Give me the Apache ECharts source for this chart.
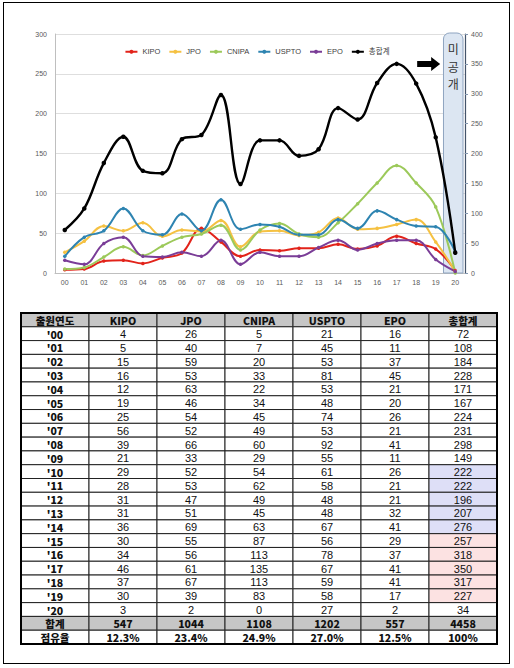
<!DOCTYPE html>
<html><head><meta charset="utf-8">
<script src="https://cdn.jsdelivr.net/npm/echarts@6/dist/echarts.min.js"></script>
<style>
html,body{margin:0;padding:0;background:#fff;}
#frame{position:absolute;left:3px;top:2px;width:505px;height:660px;border:1.5px solid #000;box-sizing:content-box;}
#c{position:absolute;left:0;top:0;width:514px;height:668px;}
</style></head><body>
<div id="frame"></div>
<div id="c"></div>
<script>
const years = ['00','01','02','03','04','05','06','07','08','09','10','11','12','13','14','15','16','17','18','19','20'];
const KIPO  = [4,5,15,16,12,19,25,56,39,21,29,28,31,31,36,30,34,46,37,30,3];
const JPO   = [26,40,59,53,63,46,54,52,66,33,52,53,47,51,69,55,56,61,67,39,2];
const CNIPA = [5,7,20,33,22,34,45,49,60,29,54,62,49,45,63,87,113,135,113,83,0];
const USPTO = [21,45,53,81,53,48,74,53,92,55,61,58,48,48,67,56,78,67,59,58,27];
const EPO   = [16,11,37,45,21,20,26,21,41,11,26,21,21,32,41,29,37,41,41,17,2];
const TOTAL = [72,108,184,228,171,167,224,231,298,149,222,222,196,207,276,257,318,350,317,227,34];
const SUM_ROW   = ['547','1044','1108','1202','557','4458'];
const SHARE_ROW = ['12.3%','23.4%','24.9%','27.0%','12.5%','100%'];
const tableHeader = ['출원연도','KIPO','JPO','CNIPA','USPTO','EPO','총합계'];
const seriesNames = ['KIPO','JPO','CNIPA','USPTO','EPO','총합계'];
const blueRows = ['10','11','12','13','14'];
const pinkRows = ['15','16','17','18','19'];

const colors = ['#e2231a','#f5c142','#9cc95a','#2e84b1','#7a3d97','#000000'];
const seriesData = [KIPO,JPO,CNIPA,USPTO,EPO,TOTAL];

// table cells
const rows = [];
rows.push(tableHeader.map(t=>({text:t,bold:true,bg:'#c6c6c6'})));
years.forEach((y,i)=>{
  const r=[{text:"'"+y,bold:true,bg:'#fff'}];
  [KIPO,JPO,CNIPA,USPTO,EPO].forEach(a=>r.push({text:String(a[i]),bold:false,bg:'#fff'}));
  let bg='#fff';
  if(blueRows.includes(y)) bg='#dedff7';
  if(pinkRows.includes(y)) bg='#fce2e2';
  r.push({text:String(TOTAL[i]),bold:false,bg:bg});
  rows.push(r);
});
rows.push([{text:'합계',bold:true,bg:'#c6c6c6'}].concat(SUM_ROW.map(t=>({text:t,bold:true,bg:'#c6c6c6'}))));
rows.push([{text:'점유율',bold:true,bg:'#fff'}].concat(SHARE_ROW.map(t=>({text:t,bold:true,bg:'#fff'}))));
const cells=[];
rows.forEach((r,ri)=>r.forEach((c,ci)=>cells.push({value:[ci,ri],cell:c})));

const chart = echarts.init(document.getElementById('c'), null, {renderer:'svg'});
const FONT = '"Liberation Sans","Noto Sans CJK KR",sans-serif';
const axisLblColor = '#595959';

const lineSeries = seriesNames.map((n,i)=>({
  name:n, type:'line', data:seriesData[i],
  xAxisIndex:0, yAxisIndex: i===5?1:0,
  smooth:0.38, symbol:'circle', symbolSize: i===5?4.5:3.5,
  lineStyle:{width: i===5?2.4:2, color:colors[i]},
  itemStyle:{color:colors[i]},
  z: i===5?5:3
}));

chart.setOption({
  animation:false,
  textStyle:{fontFamily:FONT},
  color:colors,
  legend:{
    data:seriesNames, top:43, left:'center',
    itemWidth:12, itemHeight:5, itemGap:8,
    textStyle:{fontSize:7.5, color:'#404040', fontFamily:FONT}
  },
  grid:[
    {left:55, right:49, top:34, bottom:395},
    {left:21, right:17, top:313, bottom:24}
  ],
  xAxis:[
    {type:'category', data:years, gridIndex:0, boundaryGap:true,
     axisLine:{lineStyle:{color:'#bfbfbf'}}, axisTick:{show:false},
     axisLabel:{fontSize:7, color:axisLblColor, margin:6}},
    {type:'category', data:tableHeader.map((_,i)=>i), gridIndex:1, show:false}
  ],
  yAxis:[
    {type:'value', gridIndex:0, min:0, max:300, interval:50,
     axisLine:{show:true, lineStyle:{color:'#bfbfbf'}}, axisTick:{show:false},
     splitLine:{lineStyle:{color:'#dedede'}},
     axisLabel:{fontSize:7, color:axisLblColor, margin:8}},
    {type:'value', gridIndex:0, min:0, max:400, interval:50, position:'right',
     axisLine:{show:true, lineStyle:{color:'#44546a', width:1.2}},
     axisTick:{show:true, length:3, lineStyle:{color:'#8497b0'}},
     splitLine:{show:false},
     axisLabel:{fontSize:7, color:axisLblColor, margin:6}},
    {type:'category', data:rows.map((_,i)=>i), gridIndex:1, inverse:true, show:false}
  ],
  series: lineSeries.concat([{
    type:'custom', xAxisIndex:1, yAxisIndex:2, data:cells,
    renderItem:function(params, api){
      const c = api.coord([api.value(0), api.value(1)]);
      const s = api.size([1,1]);
      const cell = cells[params.dataIndex].cell;
      return {type:'group', children:[
        {type:'rect', shape:{x:c[0]-s[0]/2, y:c[1]-s[1]/2, width:s[0], height:s[1]},
         style:{fill:cell.bg, stroke:'#222', lineWidth:1}},
        {type:'text', style:{text:cell.text, x:c[0], y:c[1]+0.5, align:'center', verticalAlign:'middle',
          fill:'#111', fontSize: cell.bold?10.5:11, fontWeight: cell.bold?900:'normal',
          fontFamily: cell.bold?'"Noto Sans CJK KR","Liberation Sans",sans-serif':'"Liberation Sans",sans-serif'}}
      ]};
    }
  }])
});

// decorations positioned from the axes
const x19 = chart.convertToPixel({xAxisIndex:0}, '19');
const x20 = chart.convertToPixel({xAxisIndex:0}, '20');
const band = x20 - x19;
const yTop = chart.convertToPixel({yAxisIndex:1}, 400);
const yBot = chart.convertToPixel({yAxisIndex:1}, 0);
const y350 = chart.convertToPixel({yAxisIndex:1}, 350);
const bandL = x20 - band/2 - 2, bandR = x20 + band/2 - 2;
const tl = chart.convertToPixel({xAxisIndex:1, yAxisIndex:2}, [0,0]);
const br = chart.convertToPixel({xAxisIndex:1, yAxisIndex:2}, [6, rows.length-1]);
const cw = chart.convertToPixel({xAxisIndex:1}, 1) - chart.convertToPixel({xAxisIndex:1}, 0);
const rh = chart.convertToPixel({yAxisIndex:2}, 1) - chart.convertToPixel({yAxisIndex:2}, 0);
const ax = x19 - band*0.95;
chart.setOption({
  graphic:[
    {type:'rect', z:1, shape:{x:bandL, y:yTop-1, width:bandR-bandL, height:yBot-yTop+1, r:[6,6,0,0]},
     style:{fill:'#dce6f2', stroke:'#8ea4c0', lineWidth:1}},
    {type:'text', z:2, style:{text:'미\n공\n개', x:(bandL+bandR)/2, y:yTop+6, align:'center', verticalAlign:'top',
      fontSize:12, lineHeight:17.5, fill:'#333', fontFamily:'"Noto Sans CJK KR",sans-serif'}},
    {type:'polygon', z:10, shape:{points:[
      [ax, y350-3],[ax+14, y350-3],[ax+14, y350-7],[ax+23, y350],[ax+14, y350+7],[ax+14, y350+3],[ax, y350+3]
    ]}, style:{fill:'#000'}},
    {type:'rect', z:100, shape:{x:tl[0]-cw/2, y:tl[1]-rh/2, width:br[0]-tl[0]+cw, height:br[1]-tl[1]+rh},
     style:{fill:'none', stroke:'#000', lineWidth:2}}
  ]
});
</script>
</body></html>
